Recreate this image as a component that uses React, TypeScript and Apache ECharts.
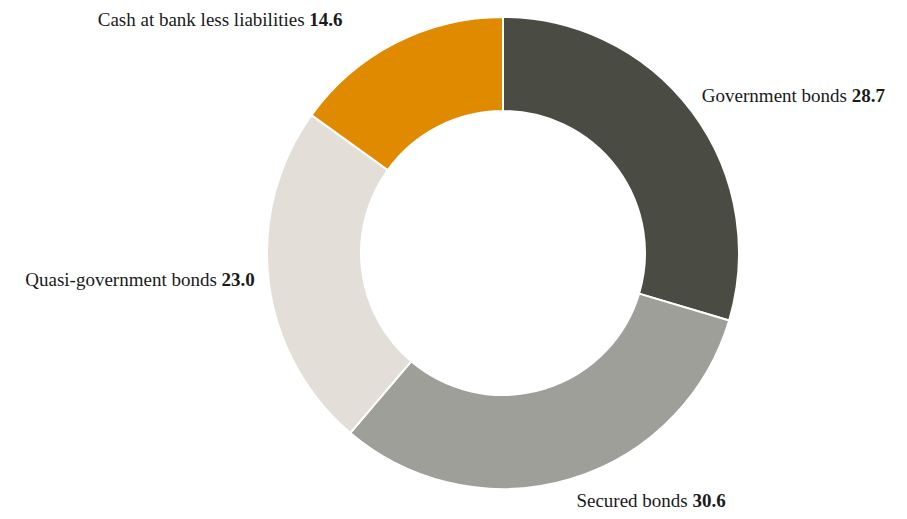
import React, { useEffect, useRef } from "react";
import * as echarts from "echarts";

const categories = [
  "Government bonds",
  "Secured bonds",
  "Quasi-government bonds",
  "Cash at bank less liabilities",
];
const values = [28.7, 30.6, 23.0, 14.6];
const colors = ["#4a4c43", "#9e9f98", "#e3dfd8", "#e08a00"];
// per-slice label offsets (label line length / length2 / padding), label line hidden
const labelLen = [12, 22, 14, 26];
const labelLen2 = [0, 0, 0, 41];
const labelPad = [
  [0, 0, 18, 0],
  [0, 0, 0, 0],
  [0, 0, 8, 0],
  [0, 0, 0, 0],
];

export default function App() {
  const ref = useRef<HTMLDivElement>(null);
  useEffect(() => {
    if (!ref.current) return;
    const chart = echarts.init(ref.current, null, { renderer: "svg" });
    const font = "'Liberation Serif', 'DejaVu Serif', serif";
    chart.setOption({
      animation: false,
      backgroundColor: "#ffffff",
      series: [
        {
          type: "pie",
          center: [503, 253],
          radius: [142, 236],
          startAngle: 90,
          clockwise: true,
          avoidLabelOverlap: false,
          itemStyle: { borderColor: "#ffffff", borderWidth: 2 },
          label: {
            show: true,
            position: "outside",
            distanceToLabelLine: 0,
            fontFamily: font,
            fontSize: 19,
            color: "#1a1a1a",
            formatter: (p: any) => `{n|${p.name}} {v|${p.value.toFixed(1)}}`,
            rich: {
              n: { fontFamily: font, fontSize: 19, color: "#1a1a1a" },
              v: { fontFamily: font, fontSize: 19, color: "#1a1a1a", fontWeight: "bold" },
            },
          },
          labelLine: { show: false },
          data: categories.map((name, i) => ({
            name,
            value: values[i],
            itemStyle: { color: colors[i] },
            label: { padding: labelPad[i] },
            labelLine: { show: false, length: labelLen[i], length2: labelLen2[i] },
          })),
        },
      ],
    });
    return () => chart.dispose();
  }, []);
  return (
    <div
      ref={ref}
      style={{ position: "absolute", left: 0, top: 0, width: 907, height: 519 }}
    />
  );
}
